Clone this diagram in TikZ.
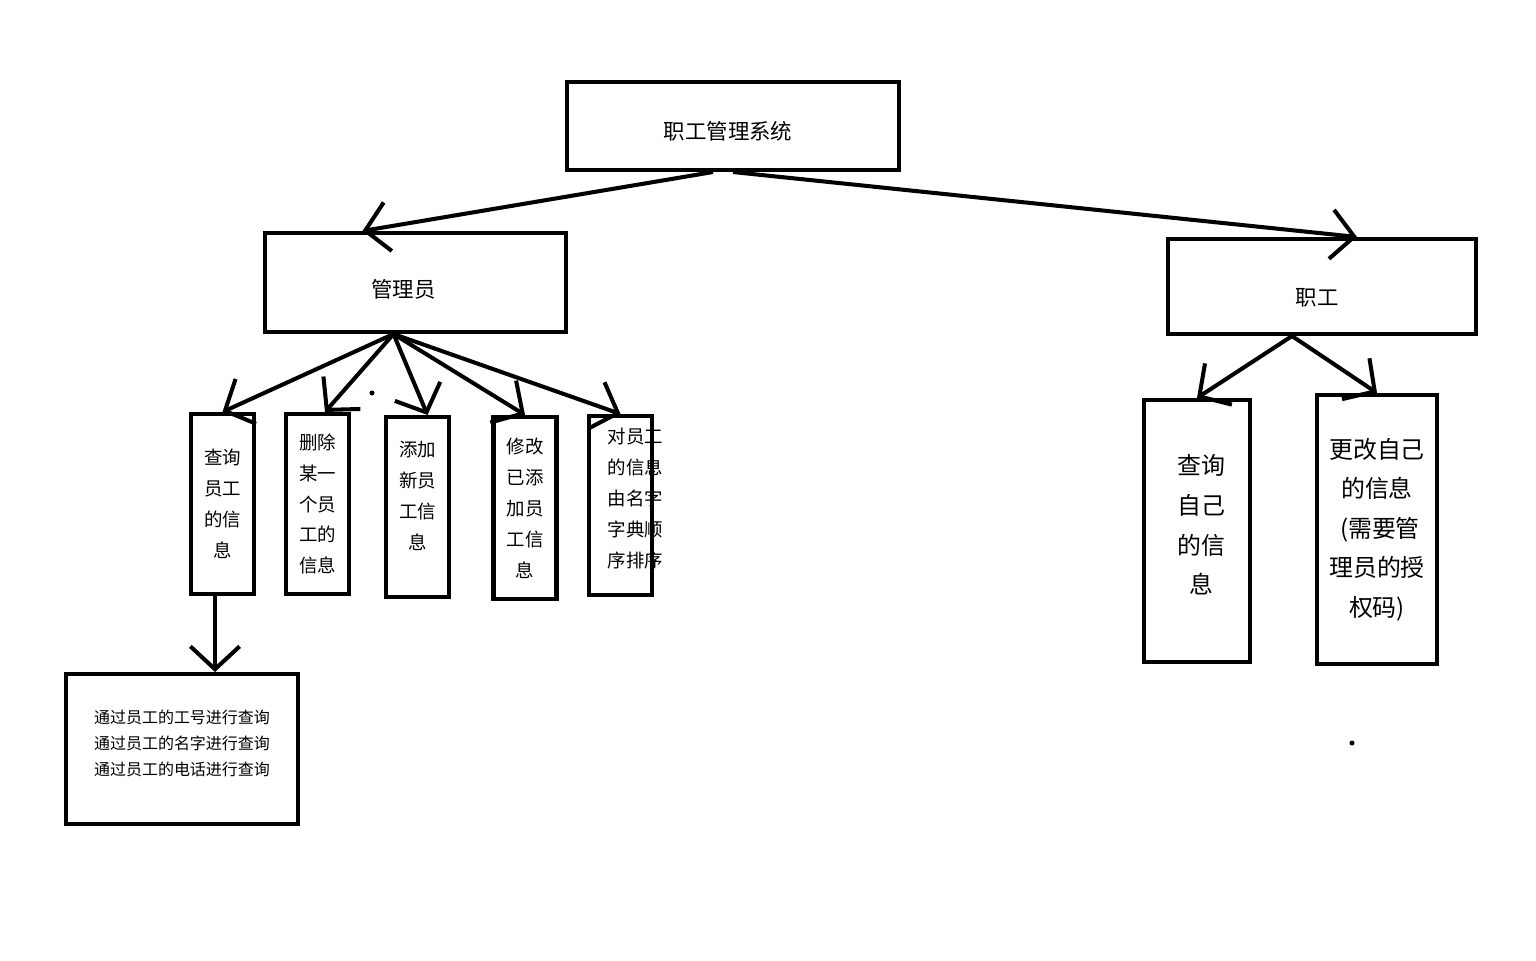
\documentclass[tikz,border=0pt]{standalone}
\usepackage{fontspec}
\newfontfamily\cjk{Noto Sans CJK SC}
\usetikzlibrary{arrows.meta}

\begin{document}
\begin{tikzpicture}[
    box/.style={draw, line width=2.3pt, inner sep=1pt, align=center},
    txt/.style={inner sep=0pt, align=center},
    headfont/.style={font=\cjk\fontsize{12.2}{15}\selectfont},
    tallfont/.style={font=\cjk\fontsize{10.5}{17.6}\selectfont},
    selffont/.style={font=\cjk\fontsize{13.6}{22.5}\selectfont},
    tallbox/.style={box, tallfont, minimum width=1.26cm, minimum height=3.6cm},
    link/.style={line width=2.3pt, -{Straight Barb[length=13pt,width=28pt]}}
  ]
  \useasboundingbox (0,0) rectangle (30.72,-19.2);

  % top of the tree
  \node[box, minimum width=6.64cm, minimum height=1.76cm] (sys) at (14.66,-2.52) {};
  \node[txt, headfont] (systext) at ([xshift=-0.1cm, yshift=-0.1cm]sys.center) {职工管理系统};
  \node[box, minimum width=6.02cm, minimum height=1.98cm] (mgr) at (8.31,-5.65) {};
  \node[txt, headfont] (mgrtext) at ([xshift=-0.24cm, yshift=-0.14cm]mgr.center) {管理员};
  \node[box, minimum width=6.16cm, minimum height=1.90cm] (staff) at (26.44,-5.73) {};
  \node[txt, headfont] (stafftext) at ([xshift=-0.1cm, yshift=-0.22cm]staff.center) {职工};

  \draw[link] ([xshift=-0.4cm]sys.south) -- ([xshift=-1.06cm]mgr.north);
  \draw[link] (sys.south) -- ([xshift=0.7cm]staff.north);

  % what the manager can do
  \node[tallbox] (query) at (4.45,-10.08) {查询\\员工\\的信\\息};
  \node[tallbox] (del) at (6.35,-10.08) {删除\\某一\\个员\\工的\\信息};
  \node[tallbox] (add) at (8.35,-10.14) {};
  \node[txt, tallfont] (addtext) at ([yshift=0.22cm]add.center) {添加\\新员\\工信\\息};
  \node[tallbox, minimum height=3.64cm] (mod) at (10.5,-10.16) {修改\\已添\\加员\\工信\\息};
  \node[tallbox, minimum height=3.58cm] (sort) at (12.41,-10.11) {};
  \node[txt, tallfont] (sorttext) at ([xshift=0.3cm, yshift=0.14cm]sort.center) {对员工\\的信息\\由名字\\字典顺\\序排序};

  \draw[link] ([xshift=-0.44cm]mgr.south) -- (query.north);
  \draw[link] ([xshift=-0.44cm]mgr.south) -- ([xshift=0.15cm]del.north);
  \draw[link] ([xshift=-0.44cm]mgr.south) -- ([xshift=0.2cm]add.north);
  \draw[link] ([xshift=-0.44cm]mgr.south) -- (mod.north);
  \draw[link] ([xshift=-0.44cm]mgr.south) -- (sort.north);

  % ways to look up a worker
  \node[box, minimum width=4.64cm, minimum height=3.0cm] (ways) at (3.64,-14.98) {};
  \node[txt, font=\cjk\fontsize{9.1}{14.8}\selectfont] (waystext) at ([yshift=0.12cm]ways.center)
    {通过员工的工号进行查询\\通过员工的名字进行查询\\通过员工的电话进行查询};
  \draw[link] ([xshift=-0.15cm]query.south) -- ([xshift=0.66cm]ways.north);

  % what a worker can do
  \node[box, minimum width=2.12cm, minimum height=5.24cm] (self) at (23.94,-10.62) {};
  \node[txt, selffont] (selftext) at ([xshift=0.08cm, yshift=0.12cm]self.center) {查询\\自己\\的信\\息};
  \node[box, selffont, minimum width=2.40cm, minimum height=5.38cm] (change) at (27.54,-10.59) {更改自己\\的信息\\\hspace*{0.25em}(需要管\\理员的授\\权码)};

  \draw[link] ([xshift=-0.6cm]staff.south) -- (self.north);
  \draw[link] ([xshift=-0.6cm]staff.south) -- (change.north);

  % stray dots
  \fill (7.44,-7.86) circle (0.05);
  \fill (27.04,-14.86) circle (0.05);
\end{tikzpicture}
\end{document}
